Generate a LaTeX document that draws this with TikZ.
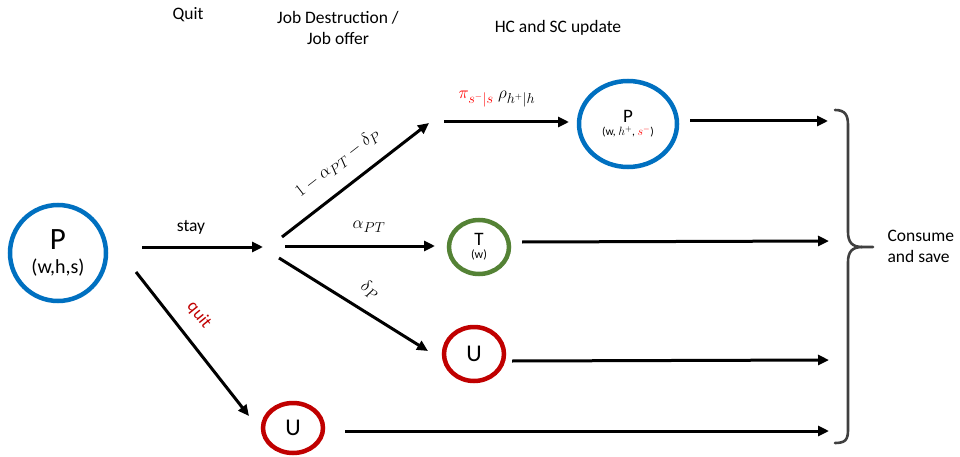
\documentclass[tikz,border=0pt]{standalone}
\usepackage{fontspec}
\setmainfont{Carlito}
\usetikzlibrary{arrows.meta,shapes.geometric}
\definecolor{pblue}{RGB}{0,112,192}
\definecolor{tgreen}{RGB}{84,130,53}
\definecolor{ured}{RGB}{192,0,0}
\definecolor{mred}{RGB}{255,0,0}
\definecolor{bgray}{RGB}{64,64,64}
\begin{document}
\begin{tikzpicture}[x=1pt,y=-1pt,
  arr/.style={line width=3pt,-{Triangle[length=11pt,width=10pt]}},
  stnode/.style={ellipse,draw,line width=4.5pt,inner sep=0pt,align=center},
  hdr/.style={font=\fontsize{17.5}{21}\selectfont,align=center},
  lbl/.style={font=\fontsize{19}{22}\selectfont,inner sep=0pt}
]
\useasboundingbox (0,0) rectangle (960,457);

% headers
\node[hdr] (hquit) at (188,15) {Quit};
\node[hdr] (hjob) at (338,28) {Job Destruction /\\Job offer};
\node[hdr] (hhc) at (558,28) {HC and SC update};

% states
\node[stnode,pblue,minimum width=96pt,minimum height=96pt] (P0) at (58,253)
  {\color{black}{\fontsize{31}{31}\selectfont P}\\[9pt]\color{black}{\fontsize{20}{20}\selectfont (w,h,s)}};
\node[stnode,pblue,minimum width=98pt,minimum height=86pt] (P1) at (628,124)
  {\color{black}{\fontsize{19}{19}\selectfont P}\\[1pt]\color{black}{\fontsize{11.5}{11.5}\selectfont (w, $h^{+}$, \textcolor{mred}{$s^{-}$})}};
\node[stnode,tgreen,minimum width=60pt,minimum height=54pt] (T) at (479,247)
  {\color{black}{\fontsize{19}{19}\selectfont T}\\[1pt]\color{black}{\fontsize{12}{12}\selectfont (w)}};
\node[stnode,ured,minimum width=60pt,minimum height=54pt] (U1) at (474,354)
  {\color{black}\fontsize{24}{24}\selectfont U};
\node[stnode,ured,minimum width=60pt,minimum height=50pt] (U2) at (293,428)
  {\color{black}\fontsize{24}{24}\selectfont U};

% connector end points
\coordinate (stayS) at (142,247);
\coordinate (stayE) at (263,247);
\coordinate (upS) at (282,237);
\coordinate (upE) at (429,123);
\coordinate (midS) at (285,246);
\coordinate (midE) at (435,246);
\coordinate (dnS) at (279,258);
\coordinate (dnE) at (428,351);
\coordinate (qS) at (136,272);
\coordinate (qE) at (249,416);
\coordinate (topS) at (444,122);
\coordinate (topE) at (569,122);
\coordinate (r1S) at (690,121);
\coordinate (r1E) at (828,121);
\coordinate (r2S) at (522,242);
\coordinate (r2E) at (829,241);
\coordinate (r3S) at (512,361);
\coordinate (r3E) at (829,360);
\coordinate (r4S) at (345,431);
\coordinate (r4E) at (829,431);

\draw[arr] (stayS) -- (stayE);
\draw[arr] (upS) -- (upE);
\draw[arr] (midS) -- (midE);
\draw[arr] (dnS) -- (dnE);
\draw[arr] (qS) -- (qE);
\draw[arr] (topS) -- (topE);
\draw[arr] (r1S) -- (r1E);
\draw[arr] (r2S) -- (r2E);
\draw[arr] (r3S) -- (r3E);
\draw[arr] (r4S) -- (r4E);

% labels
\node[hdr] (lstay) at (191,227) {stay};
\node[hdr,text=ured,rotate=-51,inner sep=0pt] (lquit) at (199,315) {quit};
\node[lbl,rotate=37.8] (lup) at (338,163) {$1-\alpha_{PT}-\delta_{P}$};
\node[lbl] (lmid) at (369,227) {$\alpha_{PT}$};
\node[lbl,rotate=-32] (ldn) at (370,290) {$\delta_{P}$};
\node[lbl] (ltop) at (497,99) {$\textcolor{mred}{\pi_{s^{-}|s}}\ \rho_{h^{+}|h}$};

% brace
\draw[bgray,line width=2.6pt,line cap=round]
  (835,110) .. controls (845,110) and (848,115) .. (848,125) -- (848,232)
  .. controls (848,242) and (852,247) .. (862,247) -- (873,247);
\draw[bgray,line width=2.6pt,line cap=round]
  (862,247) .. controls (852,247) and (848,252) .. (848,262) -- (848,430)
  .. controls (848,440) and (845,443) .. (835,443);

\node[hdr,align=left,anchor=west] (cons) at (884,246) {Consume\\and save};
\end{tikzpicture}
\end{document}
